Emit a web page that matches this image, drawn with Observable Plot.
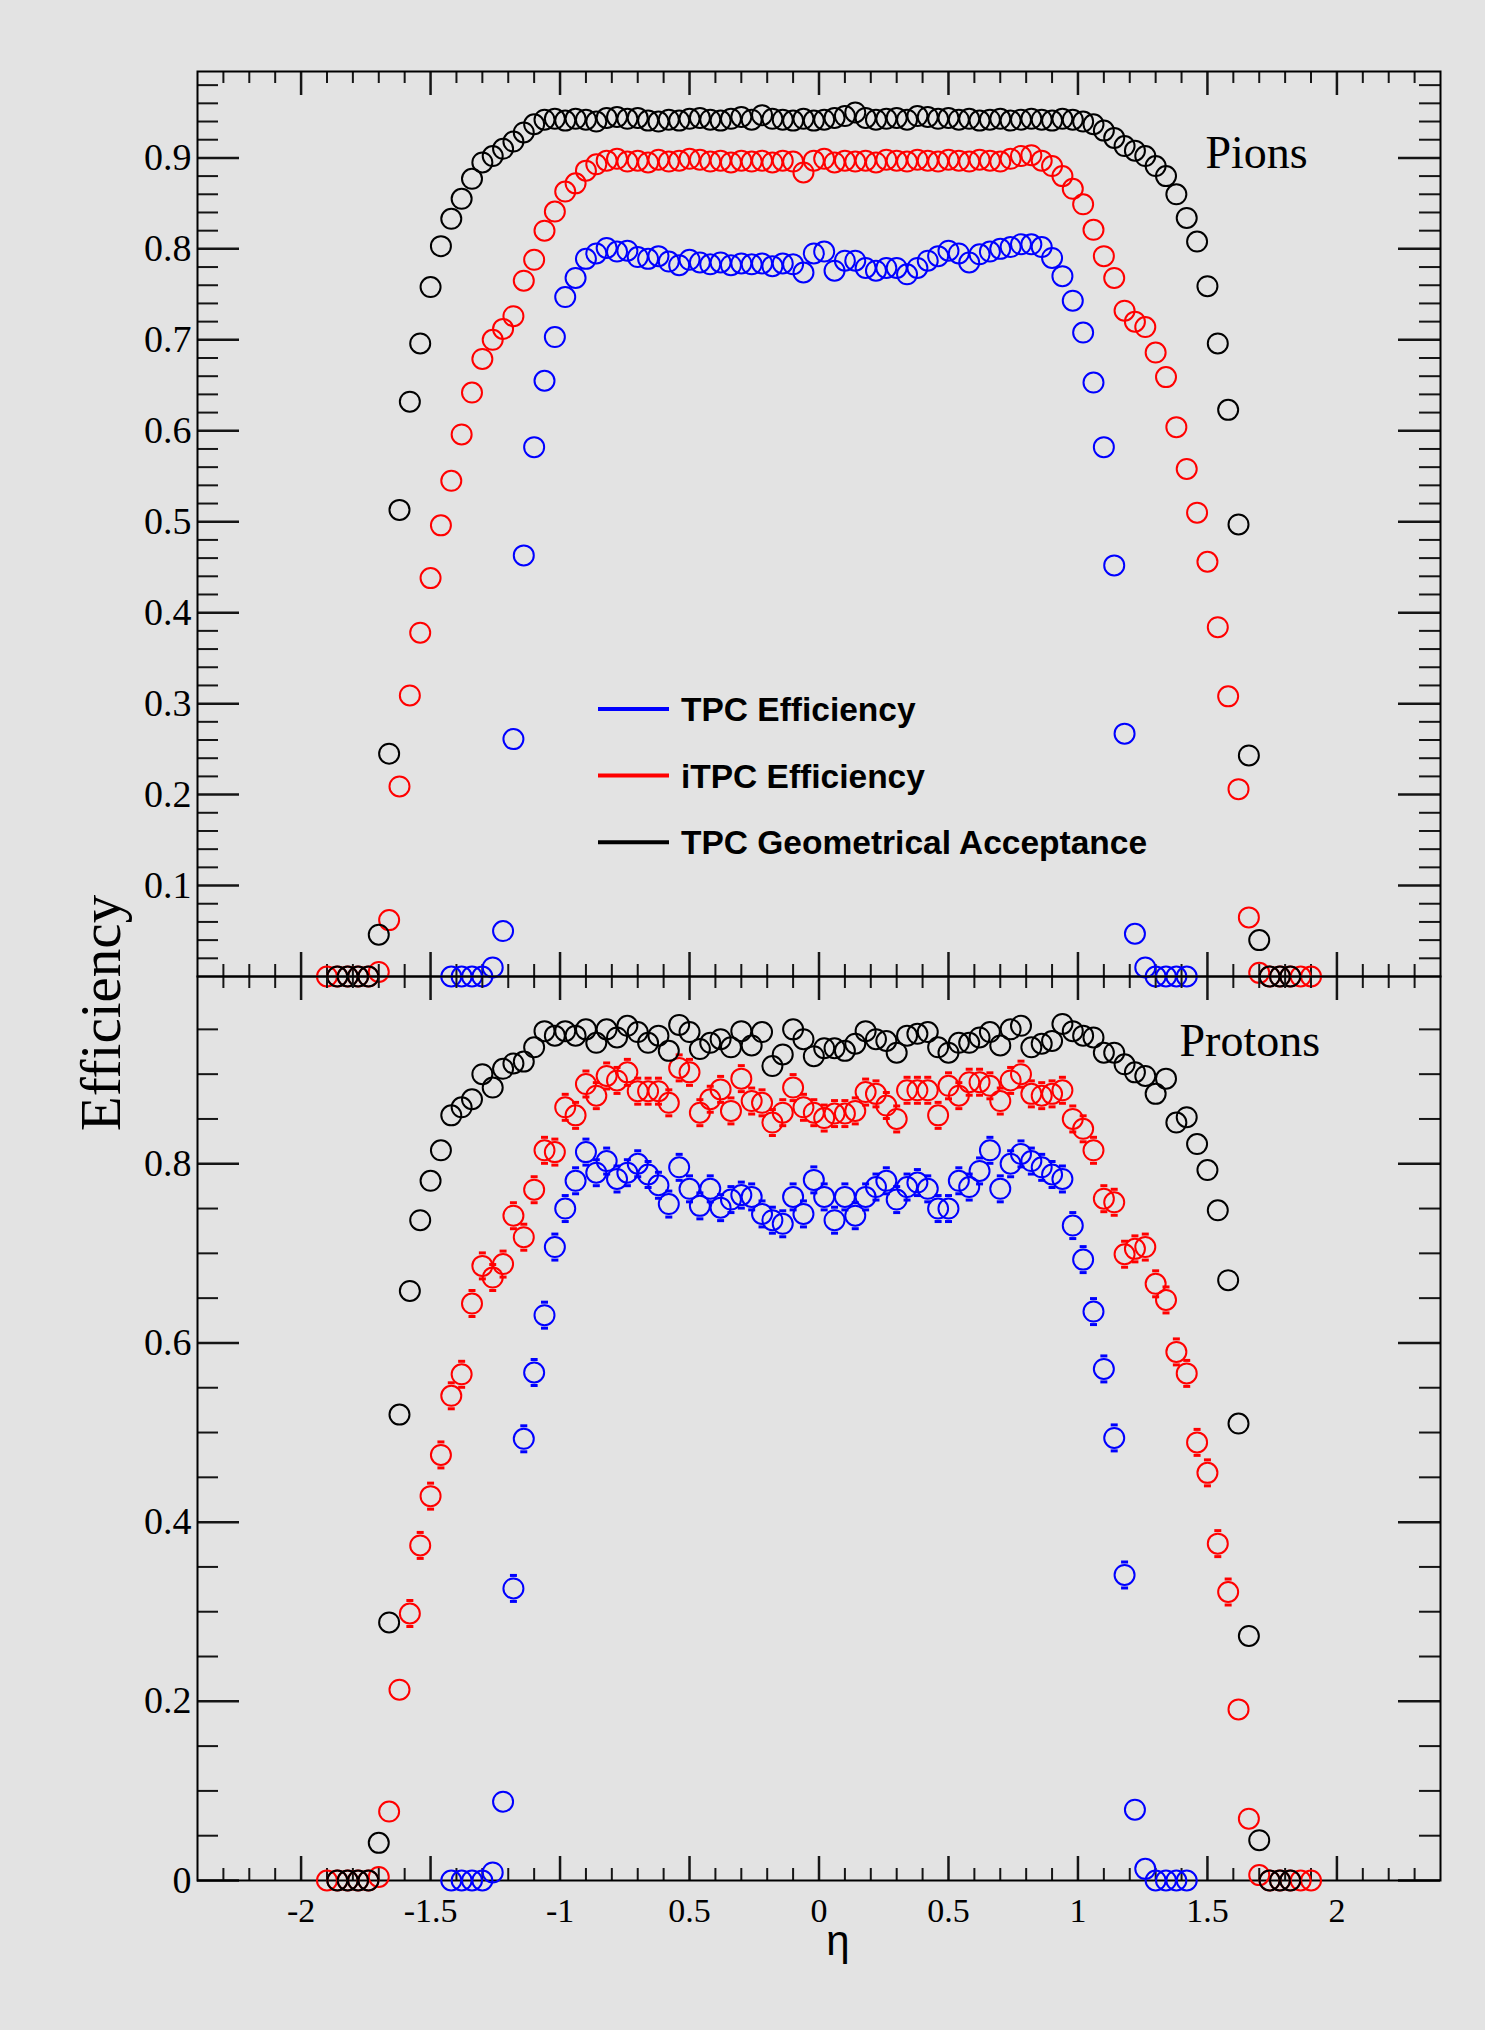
<!DOCTYPE html>
<html>
<head>
<meta charset="utf-8">
<script src="https://cdn.jsdelivr.net/npm/d3@7"></script>
<script src="https://cdn.jsdelivr.net/npm/@observablehq/plot@0.6"></script>
<style>
html, body { margin: 0; padding: 0; background: #e3e3e3; }
#wrap { position: relative; width: 1485px; height: 2030px; overflow: hidden; background: #e3e3e3; }
#wrap > svg { position: absolute; left: 0; }
</style>
</head>
<body>
<div id="wrap"></div>
<script>
// ---------------- DATA ----------------
const eta = [
  -1.90,-1.86,-1.82,-1.78,-1.74,-1.70,-1.66,-1.62,-1.58,-1.54,-1.50,-1.46,
  -1.42,-1.38,-1.34,-1.30,-1.26,-1.22,-1.18,-1.14,-1.10,-1.06,-1.02,-0.98,
  -0.94,-0.90,-0.86,-0.82,-0.78,-0.74,-0.70,-0.66,-0.62,-0.58,-0.54,-0.50,
  -0.46,-0.42,-0.38,-0.34,-0.30,-0.26,-0.22,-0.18,-0.14,-0.10,-0.06,-0.02,
   0.02, 0.06, 0.10, 0.14, 0.18, 0.22, 0.26, 0.30, 0.34, 0.38, 0.42, 0.46,
   0.50, 0.54, 0.58, 0.62, 0.66, 0.70, 0.74, 0.78, 0.82, 0.86, 0.90, 0.94,
   0.98, 1.02, 1.06, 1.10, 1.14, 1.18, 1.22, 1.26, 1.30, 1.34, 1.38, 1.42,
   1.46, 1.50, 1.54, 1.58, 1.62, 1.66, 1.70, 1.74, 1.78, 1.82, 1.86, 1.90
];

// Pions
const pionTPC = [
  null,null,null,null,null,null,null,null,null,null,null,null,
  0,0,0,0,0.010,0.050,0.261,0.463,0.582,0.655,0.703,0.747,
  0.768,0.789,0.795,0.801,0.797,0.798,0.791,0.789,0.792,0.786,0.782,0.788,
  0.785,0.783,0.785,0.782,0.784,0.783,0.784,0.781,0.784,0.783,0.774,0.795,
  0.797,0.776,0.787,0.787,0.779,0.776,0.779,0.779,0.772,0.779,0.787,0.792,
  0.798,0.795,0.785,0.794,0.797,0.800,0.802,0.805,0.805,0.802,0.790,0.770,
  0.743,0.708,0.653,0.582,0.452,0.267,0.047,0.010,0,0,0,0,
  null,null,null,null,null,null,null,null,null,null,null,null
];
const pionITPC = [
  0,0,0,0,0,0.005,0.062,0.209,0.309,0.378,0.438,0.496,
  0.545,0.596,0.642,0.679,0.700,0.712,0.726,0.765,0.788,0.820,0.841,0.863,
  0.872,0.886,0.893,0.897,0.899,0.896,0.897,0.895,0.898,0.896,0.897,0.899,
  0.898,0.896,0.897,0.895,0.897,0.896,0.897,0.895,0.897,0.896,0.884,0.897,
  0.899,0.895,0.897,0.896,0.897,0.895,0.898,0.897,0.896,0.898,0.897,0.896,
  0.898,0.897,0.896,0.898,0.897,0.896,0.899,0.902,0.903,0.897,0.891,0.880,
  0.866,0.849,0.821,0.792,0.768,0.732,0.720,0.714,0.686,0.659,0.604,0.558,
  0.510,0.456,0.384,0.308,0.206,0.065,0.004,0,0,0,0,0
];
const pionGeo = [
  null,0,0,0,0,0.046,0.245,0.513,0.632,0.696,0.758,0.803,
  0.833,0.855,0.877,0.895,0.902,0.910,0.918,0.928,0.937,0.942,0.943,0.941,
  0.943,0.942,0.940,0.944,0.945,0.943,0.944,0.941,0.940,0.942,0.941,0.943,
  0.944,0.942,0.941,0.943,0.945,0.942,0.947,0.943,0.942,0.941,0.943,0.941,
  0.942,0.944,0.946,0.950,0.944,0.942,0.943,0.944,0.942,0.946,0.945,0.943,
  0.944,0.942,0.943,0.941,0.942,0.943,0.941,0.942,0.943,0.942,0.941,0.943,
  0.942,0.940,0.937,0.930,0.922,0.913,0.908,0.902,0.891,0.880,0.860,0.834,
  0.808,0.759,0.696,0.623,0.497,0.243,0.040,0,0,0,null,null
];

// Protons
const protonTPC = [
  null,null,null,null,null,null,null,null,null,null,null,null,
  0,0,0,0,0.009,0.088,0.326,0.493,0.567,0.631,0.707,0.750,
  0.781,0.813,0.790,0.803,0.783,0.790,0.800,0.788,0.776,0.755,0.796,0.772,
  0.753,0.772,0.751,0.760,0.765,0.763,0.744,0.737,0.733,0.763,0.744,0.782,
  0.763,0.737,0.763,0.742,0.763,0.774,0.781,0.760,0.774,0.779,0.772,0.750,
  0.750,0.781,0.774,0.792,0.815,0.772,0.800,0.811,0.803,0.796,0.788,0.783,
  0.731,0.693,0.635,0.571,0.494,0.341,0.079,0.013,0,0,0,0,
  null,null,null,null,null,null,null,null,null,null,null,null
];
const protonITPC = [
  0,0,0,0,0,0.004,0.077,0.213,0.298,0.374,0.429,0.475,
  0.541,0.565,0.644,0.686,0.673,0.688,0.742,0.718,0.771,0.815,0.813,0.863,
  0.854,0.889,0.876,0.898,0.893,0.902,0.881,0.881,0.881,0.868,0.907,0.902,
  0.857,0.872,0.883,0.859,0.895,0.870,0.868,0.846,0.857,0.885,0.863,0.857,
  0.851,0.856,0.856,0.859,0.880,0.878,0.865,0.850,0.882,0.882,0.882,0.854,
  0.887,0.876,0.891,0.891,0.887,0.870,0.893,0.900,0.878,0.876,0.878,0.882,
  0.850,0.839,0.815,0.761,0.757,0.699,0.705,0.707,0.666,0.648,0.590,0.566,
  0.489,0.455,0.376,0.322,0.191,0.069,0.006,0,0,0,0,0
];
const protonGeo = [
  null,0,0,0,0,0.042,0.288,0.520,0.658,0.737,0.781,0.815,
  0.854,0.863,0.872,0.900,0.885,0.906,0.912,0.914,0.930,0.948,0.943,0.948,
  0.943,0.950,0.935,0.950,0.941,0.954,0.947,0.935,0.943,0.926,0.955,0.947,
  0.928,0.935,0.939,0.930,0.948,0.932,0.947,0.909,0.922,0.950,0.939,0.920,
  0.929,0.929,0.926,0.934,0.948,0.939,0.937,0.924,0.943,0.945,0.947,0.930,
  0.924,0.935,0.935,0.941,0.947,0.932,0.950,0.954,0.930,0.934,0.937,0.956,
  0.948,0.943,0.941,0.924,0.924,0.911,0.902,0.898,0.878,0.895,0.846,0.852,
  0.822,0.793,0.748,0.670,0.510,0.273,0.045,0,0,0,null,null
];
// half-size of the proton statistical error bars
const protonErr = 0.0145;
// error bars are only visible beyond the marker above this efficiency
const protonErrVisibleFrom = 0.25;

// Axis ticks and labels
const xMajorTicks = [-2, -1.5, -1, -0.5, 0, 0.5, 1, 1.5, 2];
const xTickLabels = ["-2", "-1.5", "-1", "0.5", "0", "0.5", "1", "1.5", "2"];
const yTopTicks = [0.1, 0.2, 0.3, 0.4, 0.5, 0.6, 0.7, 0.8, 0.9];
const yTopLabels = ["0.1", "0.2", "0.3", "0.4", "0.5", "0.6", "0.7", "0.8", "0.9"];
const yBotTicks = [0, 0.2, 0.4, 0.6, 0.8];
const yBotLabels = ["0", "0.2", "0.4", "0.6", "0.8"];

const seriesNames = ["TPC Efficiency", "iTPC Efficiency", "TPC Geometrical Acceptance"];
const seriesColors = ["#0000ff", "#ff0000", "#000000"];
const panelNames = ["Pions", "Protons"];

// ---------------- LAYOUT ----------------
const W = 1485;
const mLeft = 197, mRight = 45;
const plotW = W - mLeft - mRight;
const topH = 1000, topMT = 71, topMB = 24, topPH = topH - topMT - topMB;
const botOffset = 950, botH = 1080, botMT = 26, botMB = 150, botPH = botH - botMT - botMB;
const xDomain = [-2.4, 2.4];
const tickColor = "#161616";

const xMinorTicks = d3.range(-23, 24).map(k => k / 10).filter(v => Math.abs(v * 2 - Math.round(v * 2)) > 1e-6);
const yTopMinor = d3.range(1, 50).map(k => k / 50).filter(v => Math.abs(v * 10 - Math.round(v * 10)) > 1e-6);
const yBotMinor = d3.range(1, 20).map(k => k / 20).filter(v => Math.abs(v * 5 - Math.round(v * 5)) > 1e-6);

function rows(arr) {
  return eta.map((x, i) => ({eta: x, eff: arr[i]})).filter(d => d.eff != null);
}

function frameMarks(yMajor, yMinor, ph) {
  return [
    Plot.ruleY(yMinor, {insetRight: plotW - 21, stroke: tickColor, strokeWidth: 2}),
    Plot.ruleY(yMinor, {insetLeft: plotW - 21, stroke: tickColor, strokeWidth: 2}),
    Plot.ruleY(yMajor, {insetRight: plotW - 42, stroke: tickColor, strokeWidth: 2.5}),
    Plot.ruleY(yMajor, {insetLeft: plotW - 42, stroke: tickColor, strokeWidth: 2.5}),
    Plot.ruleX(xMinorTicks, {insetTop: ph - 12, stroke: tickColor, strokeWidth: 2}),
    Plot.ruleX(xMinorTicks, {insetBottom: ph - 12, stroke: tickColor, strokeWidth: 2}),
    Plot.ruleX(xMajorTicks, {insetTop: ph - 24, stroke: tickColor, strokeWidth: 2.5}),
    Plot.ruleX(xMajorTicks, {insetBottom: ph - 24, stroke: tickColor, strokeWidth: 2.5}),
    Plot.frame({stroke: "#000", strokeWidth: 2})
  ];
}

function yLabelMarks(ticks, labels) {
  const data = ticks.map((v, i) => ({v, label: labels[i]}));
  return Plot.text(data, {
    y: "v", text: "label", frameAnchor: "left", textAnchor: "end", lineAnchor: "middle",
    dx: -6, fontSize: 38, fontFamily: "Liberation Serif", fill: "#000"
  });
}

function dotMarks(series) {
  return series.map((arr, k) => Plot.dot(rows(arr), {
    x: "eta", y: "eff", r: 10, stroke: seriesColors[k], strokeWidth: 2, fill: "none"
  }));
}

const capSymbol = {
  draw(context, size) {
    const r = Math.sqrt(size / Math.PI);
    context.moveTo(-r, 0);
    context.lineTo(r, 0);
  }
};
function capMarks(arr, color) {
  const d = rows(arr).filter(p => p.eff > protonErrVisibleFrom);
  return [
    Plot.dot(d, {x: "eta", y: p => p.eff + protonErr, symbol: capSymbol, r: 3.5, stroke: color, strokeWidth: 3}),
    Plot.dot(d, {x: "eta", y: p => p.eff - protonErr, symbol: capSymbol, r: 3.5, stroke: color, strokeWidth: 3})
  ];
}

function panelLabel(name, dx, dy) {
  return Plot.text([name], {
    text: d => d, frameAnchor: "top-right", textAnchor: "start", lineAnchor: "bottom",
    dx, dy, fontSize: 46, fontFamily: "Liberation Serif", fill: "#000"
  });
}

// ---------------- TOP PANEL (Pions) ----------------
const topPlot = Plot.plot({
  width: W, height: topH,
  marginLeft: mLeft, marginRight: mRight, marginTop: topMT, marginBottom: topMB,
  x: {domain: xDomain, axis: null},
  y: {domain: [0, 0.995], axis: null},
  style: {background: "transparent", color: "#000", overflow: "visible"},
  marks: [
    ...frameMarks(yTopTicks, yTopMinor, topPH),
    yLabelMarks(yTopTicks, yTopLabels),
    panelLabel(panelNames[0], 1205 - (W - mRight), 167 - topMT),
    ...dotMarks([pionTPC, pionITPC, pionGeo])
  ]
});
topPlot.style.top = "0px";

// ---------------- BOTTOM PANEL (Protons) ----------------
const botPlot = Plot.plot({
  width: W, height: botH,
  marginLeft: mLeft, marginRight: mRight, marginTop: botMT, marginBottom: botMB,
  x: {domain: xDomain, axis: null},
  y: {domain: [0, 1.009], axis: null},
  style: {background: "transparent", color: "#000", overflow: "visible"},
  marks: [
    ...frameMarks(yBotTicks, yBotMinor, botPH),
    yLabelMarks(yBotTicks, yBotLabels),
    Plot.text(xMajorTicks.map((v, i) => ({v, label: xTickLabels[i]})), {
      x: "v", text: "label", frameAnchor: "bottom", lineAnchor: "bottom", dy: 41,
      fontSize: 34, fontFamily: "Liberation Serif", fill: "#000"
    }),
    panelLabel(panelNames[1], 1179 - (W - mRight), 1055 - (botOffset + botMT)),
    ...capMarks(protonTPC, seriesColors[0]),
    ...capMarks(protonITPC, seriesColors[1]),
    ...dotMarks([protonTPC, protonITPC, protonGeo])
  ]
});
botPlot.style.top = botOffset + "px";

const wrap = document.getElementById("wrap");
wrap.appendChild(topPlot);
wrap.appendChild(botPlot);

// ---------------- OVERLAY: axis titles and legend ----------------
const ov = d3.select(wrap).append("svg")
  .attr("width", W).attr("height", 2030)
  .style("position", "absolute").style("left", "0px").style("top", "0px")
  .style("pointer-events", "none");

ov.append("text")
  .attr("transform", "translate(120,1013) rotate(-90)")
  .attr("text-anchor", "middle")
  .attr("font-family", "Liberation Serif")
  .attr("font-size", 57)
  .attr("fill", "#000")
  .text("Efficiency");

ov.append("text")
  .attr("x", 838).attr("y", 1955)
  .attr("text-anchor", "middle")
  .attr("font-family", "Liberation Sans")
  .attr("font-size", 42)
  .attr("fill", "#000")
  .text("η");

const leg = ov.append("g");
seriesNames.forEach((name, i) => {
  const y = 709 + i * 66.6;
  leg.append("line")
    .attr("x1", 598).attr("x2", 669).attr("y1", y).attr("y2", y)
    .attr("stroke", seriesColors[i]).attr("stroke-width", 4);
  leg.append("text")
    .attr("x", 681).attr("y", y + 12)
    .attr("font-family", "Liberation Sans")
    .attr("font-weight", "bold")
    .attr("font-size", 33.5)
    .attr("fill", "#000")
    .text(name);
});
</script>
</body>
</html>
